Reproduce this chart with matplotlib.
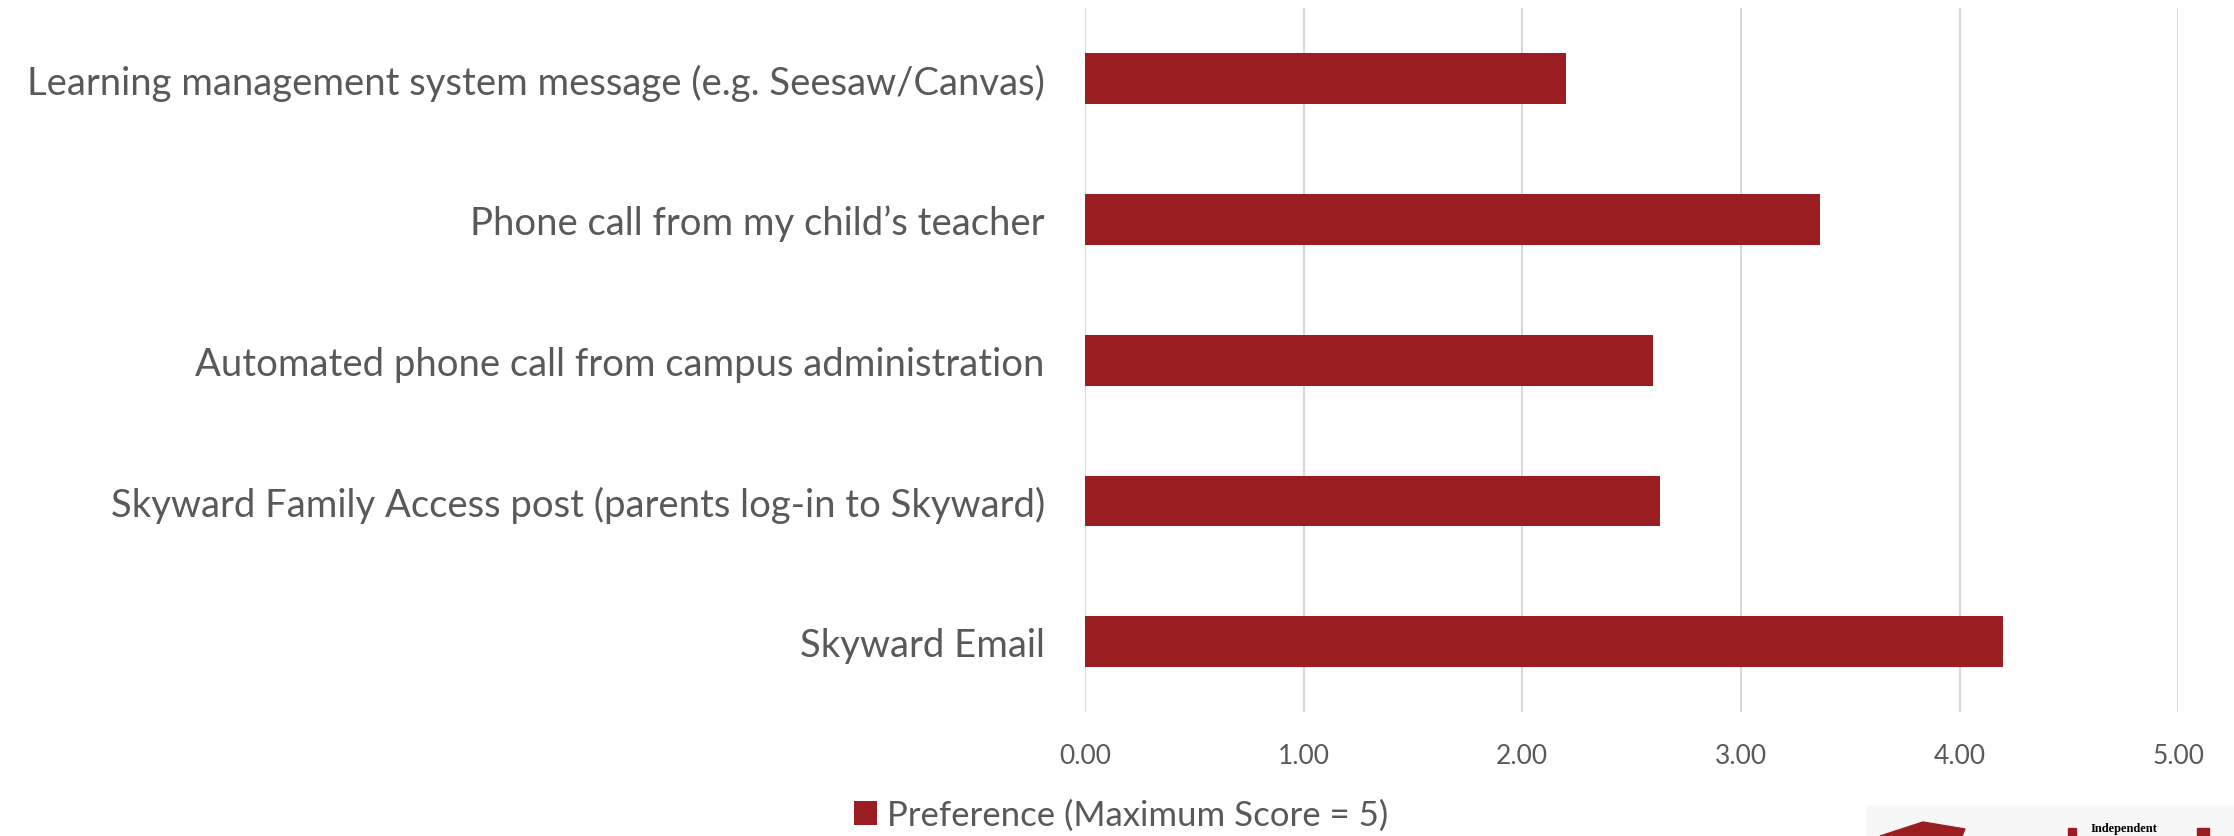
import numpy as np
import matplotlib.pyplot as plt
from matplotlib.patches import Polygon, Rectangle

plt.rcParams['font.family'] = ['Lato', 'DejaVu Sans']

# --- data ---
categories = [
    'Learning management system message (e.g. Seesaw/Canvas)',
    'Phone call from my child\u2019s teacher',
    'Automated phone call from campus administration',
    'Skyward Family Access post (parents log-in to Skyward)',
    'Skyward Email',
]
scores = [2.20, 3.36, 2.60, 2.63, 4.20]
x_ticks = [0, 1, 2, 3, 4, 5]
series_name = 'Preference (Maximum Score = 5)'

bar_color = '#9A1D22'
text_color = '#595959'
grid_color = '#D9D9D9'

W, H = 2234, 837
fig = plt.figure(figsize=(W / 100, H / 100), dpi=100)
ax = fig.add_axes([0.4857, 0.148, 0.4893, 0.841])

y = np.arange(len(categories))
ax.barh(y, scores, height=0.36, color=bar_color, label=series_name, zorder=3)

ax.set_xlim(0, 5)
ax.set_ylim(len(categories) - 0.5, -0.5)
ax.set_xticks(x_ticks)
ax.set_xticklabels([f'{v:.2f}' for v in x_ticks])
ax.set_yticks(y)
ax.set_yticklabels(categories)
ax.tick_params(axis='y', length=0, pad=29, labelsize=27.5, labelcolor=text_color)
ax.tick_params(axis='x', length=0, pad=22, labelsize=19, labelcolor=text_color)
ax.grid(axis='x', color=grid_color, lw=1.5, zorder=0)
for s in ax.spines.values():
    s.set_visible(False)

fig.legend(loc='center', bbox_to_anchor=(0.502, 0.025), frameon=False,
           fontsize=25, handlelength=0.65, handleheight=0.65, handletextpad=0.3,
           labelcolor=text_color)

# logo fragment in the lower right corner
fig.patches.append(Rectangle((1867 / W, 0.0), (W - 1867) / W, (837 - 807) / H,
                             transform=fig.transFigure, color='#F7F7F7', zorder=0))
fig.patches.append(Polygon([[1880 / W, 0.0], [1923 / W, 14 / H], [1965 / W, 7 / H], [1962 / W, 0.0]],
                           closed=True, transform=fig.transFigure, color=bar_color))
fig.patches.append(Rectangle((2068 / W, 0.0), 8 / W, 8 / H, transform=fig.transFigure,
                             color=bar_color))
fig.patches.append(Rectangle((2197 / W, 0.0), 12 / W, 8 / H, transform=fig.transFigure,
                             color=bar_color))
fig.text(2091 / W, 5 / H, 'Independent', fontsize=9, fontweight='bold',
         family=['Liberation Serif'], color='black', va='baseline')

fig.savefig('out.png', dpi=100)
